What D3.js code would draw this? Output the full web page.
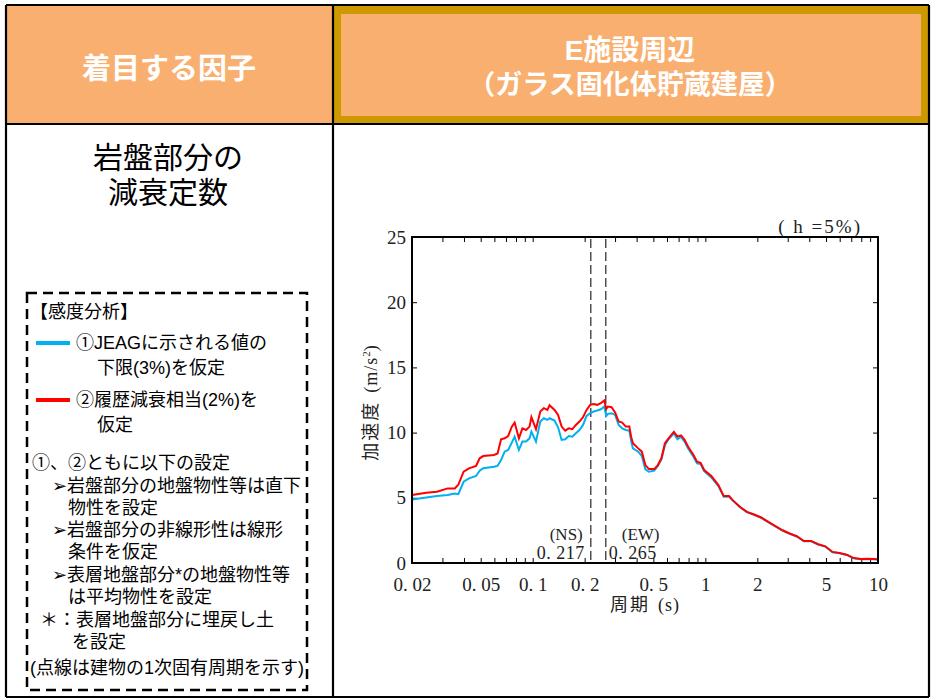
<!DOCTYPE html>
<html><head><meta charset="utf-8">
<script src="https://cdn.jsdelivr.net/npm/d3@7"></script>
<style>
html,body{margin:0;padding:0;background:#fff;}
svg{display:block;}
.jp{font-family:"Noto Sans CJK JP","Noto Sans",sans-serif;}
.jl{font-family:"Liberation Sans","Noto Sans CJK JP",sans-serif;}
.sr{font-family:"Liberation Serif","DejaVu Serif",serif;}
</style></head>
<body>
<svg id="c" width="933" height="700"></svg>
<script>
// ---- data ----
const periods = [0.020,0.0242,0.0279,0.0322,0.0354,0.0371,0.0398,0.0428,0.0470,0.0493,
0.0517,0.0597,0.0626,0.0656,0.0688,0.0721,0.0757,0.0786,0.0832,0.0872,
0.0915,0.0959,0.0983,0.1045,0.1107,0.1160,0.1217,0.1252,0.1338,0.1403,
0.1471,0.1543,0.1618,0.1697,0.1779,0.1866,0.1957,0.2052,0.2152,0.2256,
0.2366,0.2482,0.2602,0.2664,0.2729,0.2862,0.3002,0.3147,0.3300,0.3460,
0.3629,0.3716,0.3806,0.4086,0.4286,0.4494,0.4713,0.5061,0.5307,0.5566,
0.5836,0.6120,0.6573,0.6892,0.7228,0.7580,0.7948,0.8536,0.8952,0.9388,
0.9843,1.083,1.190,1.278,1.372,1.439,1.583,1.741,1.914,2.105,
2.315,2.546,2.800,3.079,3.386,3.724,4.095,4.503,4.952,5.446,
5.989,6.586,7.243,7.962,8.756,10.0];
const redAcc = [5.21,5.38,5.46,5.72,5.72,6.00,7.00,7.26,7.44,8.03,
8.20,8.28,8.40,9.49,9.56,9.74,10.46,10.77,9.56,10.33,
10.20,10.46,11.18,10.26,11.62,11.87,11.74,12.10,11.74,11.36,
10.46,10.15,10.33,10.26,10.59,10.85,11.18,11.74,12.13,12.20,
12.13,12.26,12.46,11.80,12.00,11.95,11.54,10.85,10.77,10.46,
10.46,9.69,9.18,8.79,8.54,7.51,7.20,7.20,7.51,8.03,
9.18,9.56,10.05,9.69,9.79,9.44,8.92,8.28,7.77,7.69,
7.13,6.67,5.97,5.13,5.13,4.82,4.31,3.92,3.72,3.49,
3.15,2.82,2.51,2.26,2.05,1.69,1.69,1.44,1.28,0.85,
0.77,0.64,0.38,0.31,0.33,0.28];
const blueAcc = [4.87,5.03,5.13,5.21,5.33,5.28,6.23,6.49,6.67,7.08,
7.26,7.38,7.44,7.90,8.54,8.67,9.23,9.69,8.67,9.31,
9.31,9.56,10.08,9.31,10.85,11.10,10.97,11.10,10.92,10.41,
9.44,9.49,9.74,9.69,9.95,10.20,10.59,11.28,11.49,11.62,
11.69,11.79,12.00,11.28,11.44,11.49,11.36,10.59,10.33,10.20,
10.15,9.38,8.79,8.54,8.20,7.18,7.00,7.08,7.44,7.95,
9.05,9.49,9.95,9.49,9.69,9.31,8.79,8.15,7.64,7.59,
7.05,6.56,5.90,5.08,5.10,4.80,4.29,3.90,3.70,3.47,
3.13,2.80,2.49,2.24,2.03,1.67,1.67,1.42,1.26,0.83,
0.75,0.62,0.36,0.29,0.31,0.26];
const xTickValues = [0.02,0.05,0.1,0.2,0.5,1,2,5,10];
const xTickLabels = ["0.02","0.05","0.1","0.2","0.5","1","2","5","10"];
const yTickValues = [0,5,10,15,20,25];
const naturalPeriods = [0.217,0.265];
const naturalLabels = ["(NS)","(EW)"];

const headerLeft = "着目する因子";
const headerRight = ["E施設周辺","（ガラス固化体貯蔵建屋）"];
const leftTitle = ["岩盤部分の","減衰定数"];
const legendTexts = [
  {t:"【感度分析】", x:30, y:318},
  {t:"①JEAGに示される値の", x:76, y:349},
  {t:"下限(3%)を仮定", x:97, y:374},
  {t:"②履歴減衰相当(2%)を", x:76, y:406},
  {t:"仮定", x:97, y:431},
  {t:"①、②ともに以下の設定", x:32, y:469},
  {t:"➢岩盤部分の地盤物性等は直下", x:52, y:492},
  {t:"物性を設定", x:68, y:514},
  {t:"➢岩盤部分の非線形性は線形", x:52, y:536},
  {t:"条件を仮定", x:68, y:558},
  {t:"➢表層地盤部分*の地盤物性等", x:52, y:581},
  {t:"は平均物性を設定", x:68, y:603},
  {t:"＊：表層地盤部分に埋戻し土", x:40, y:626},
  {t:"を設定", x:72, y:648},
  {t:"(点線は建物の1次固有周期を示す)", x:30, y:674}
];

const svg = d3.select("#c");
const ORANGE = "#F8AF6F", GOLD = "#CC9900";

// ---- table ----
svg.append("rect").attr("x",6).attr("y",5).attr("width",327).attr("height",119).attr("fill",ORANGE);
svg.append("rect").attr("x",333).attr("y",5).attr("width",596).attr("height",119).attr("fill",GOLD);
svg.append("rect").attr("x",341).attr("y",14).attr("width",580).attr("height",102).attr("fill",ORANGE);
const T = svg.append("g").attr("stroke","#000").attr("stroke-width",2.2);
T.append("line").attr("x1",6).attr("x2",929).attr("y1",5).attr("y2",5);
T.append("line").attr("x1",6).attr("x2",929).attr("y1",124).attr("y2",124);
T.append("line").attr("x1",6).attr("x2",929).attr("y1",697).attr("y2",697);
T.append("line").attr("x1",6).attr("x2",6).attr("y1",5).attr("y2",697);
T.append("line").attr("x1",333).attr("x2",333).attr("y1",5).attr("y2",697);
T.append("line").attr("x1",929).attr("x2",929).attr("y1",5).attr("y2",697);

svg.append("text").attr("class","jl").attr("x",169).attr("y",79).attr("text-anchor","middle")
  .attr("fill","#fff").attr("font-size",29).attr("font-weight",700).text(headerLeft);
headerRight.forEach((t,i)=>{
  svg.append("text").attr("class","jl").attr("text-anchor","middle").attr("fill","#fff").attr("font-weight",700)
    .attr("x",630).attr("y",60+i*34).attr("font-size",i===0?28:27).text(t);
});
leftTitle.forEach((t,i)=>{
  svg.append("text").attr("class","jl").attr("text-anchor","middle").attr("fill","#000").attr("font-size",30)
    .attr("x",168).attr("y",168+i*35).text(t);
});

// dashed legend box
svg.append("rect").attr("x",27).attr("y",293).attr("width",280).attr("height",397)
  .attr("fill","none").attr("stroke","#000").attr("stroke-width",2.5).attr("stroke-dasharray","10,6");
svg.append("line").attr("x1",36).attr("x2",70).attr("y1",343).attr("y2",343).attr("stroke","#00B0F0").attr("stroke-width",4);
svg.append("line").attr("x1",36).attr("x2",70).attr("y1",400).attr("y2",400).attr("stroke","#FF0000").attr("stroke-width",4);
legendTexts.forEach(d=>{
  svg.append("text").attr("class","jl").attr("font-size",18).attr("fill","#000")
    .attr("x",d.x).attr("y",d.y).text(d.t);
});

// ---- chart ----
const L=412, R=878, TOP=237, BOT=563;
const x = d3.scaleLog().domain([0.02,10]).range([L,R]);
const y = d3.scaleLinear().domain([0,25]).range([BOT,TOP]);
const g = svg.append("g");

// minor ticks
const minor = [];
[0.01,0.1,1].forEach(dec=>{ for(let k=1;k<10;k++){ const v=dec*k; if(v>0.02&&v<10) minor.push(v);} });
g.append("g").attr("transform",`translate(0,${BOT})`)
  .call(d3.axisBottom(x).tickValues(minor).tickSize(-5).tickFormat(""))
  .call(a=>a.select(".domain").remove());
g.append("g").attr("transform",`translate(0,${TOP})`)
  .call(d3.axisTop(x).tickValues(minor).tickSize(-5).tickFormat(""))
  .call(a=>a.select(".domain").remove());
g.append("g").attr("transform",`translate(${R},0)`)
  .call(d3.axisRight(y).tickValues(yTickValues).tickSize(-5).tickFormat(""))
  .call(a=>a.select(".domain").remove());
g.append("g").attr("transform",`translate(${L},0)`)
  .call(d3.axisLeft(y).tickValues(yTickValues).tickSize(-5).tickFormat(""))
  .call(a=>a.select(".domain").remove());
g.selectAll(".tick line").attr("stroke","#000").attr("stroke-width",1);

// x labels
const xl = g.append("g").attr("transform",`translate(0,${BOT})`)
  .call(d3.axisBottom(x).tickValues(xTickValues).tickSize(0).tickPadding(20)
    .tickFormat((d,i)=>xTickLabels[i].replace(".",". ")));
xl.select(".domain").remove();
xl.selectAll("text").attr("class","sr").attr("font-size",19).attr("fill","#222").attr("dy",0).attr("y",28);
// y labels
const yl = g.append("g").attr("transform",`translate(${L},0)`)
  .call(d3.axisLeft(y).tickValues(yTickValues).tickSize(0).tickPadding(6));
yl.select(".domain").remove();
yl.selectAll("text").attr("class","sr").attr("font-size",19).attr("fill","#222");

// natural period dashed lines
naturalPeriods.forEach((p,i)=>{
  g.append("line").attr("x1",x(p)).attr("x2",x(p)).attr("y1",TOP+2).attr("y2",BOT)
    .attr("stroke","#444").attr("stroke-width",1.4).attr("stroke-dasharray","9,4");
  const left = i===0;
  g.append("text").attr("class","sr").attr("fill","#222").attr("text-anchor", left?"end":"start")
    .attr("font-size",17).attr("x", left ? x(p)-8 : x(p)+16).attr("y",540).text(naturalLabels[i]);
  g.append("text").attr("class","sr").attr("fill","#222").attr("text-anchor", left?"end":"start")
    .attr("font-size",18).attr("letter-spacing",0.5).attr("x", left ? x(p)-6 : x(p)+3).attr("y",559)
    .text(String(p).replace(".",". "));
});

// curves
const line = d3.line().x((d,i)=>x(periods[i])).y(d=>y(d));
g.append("path").datum(blueAcc).attr("d",line).attr("fill","none").attr("stroke","#00B0F0").attr("stroke-width",2);
g.append("path").datum(redAcc).attr("d",line).attr("fill","none").attr("stroke","#FF0000").attr("stroke-width",2);

// frame
g.append("rect").attr("x",L).attr("y",TOP).attr("width",R-L).attr("height",BOT-TOP)
  .attr("fill","none").attr("stroke","#000").attr("stroke-width",2);

// axis titles
g.append("text").attr("x",(L+R)/2).attr("y",611).attr("text-anchor","middle").attr("font-size",18).attr("fill","#222")
  .html('<tspan class="jp" letter-spacing="2">周期</tspan><tspan class="sr" dx="8" letter-spacing="1">(s)</tspan>');
g.append("text").attr("transform",`translate(377,403) rotate(-90)`).attr("text-anchor","middle").attr("font-size",18).attr("fill","#222")
  .html('<tspan class="jp" letter-spacing="2">加速度</tspan><tspan class="sr" dx="8" letter-spacing="1">(m/s</tspan><tspan class="sr" font-size="11" dy="-7">2</tspan><tspan class="sr" dy="7">)</tspan>');
g.append("text").attr("class","sr").attr("x",862).attr("y",233).attr("text-anchor","end").attr("font-size",19).attr("fill","#222")
  .attr("letter-spacing",2).text("( h =5%)");
</script>
</body></html>
